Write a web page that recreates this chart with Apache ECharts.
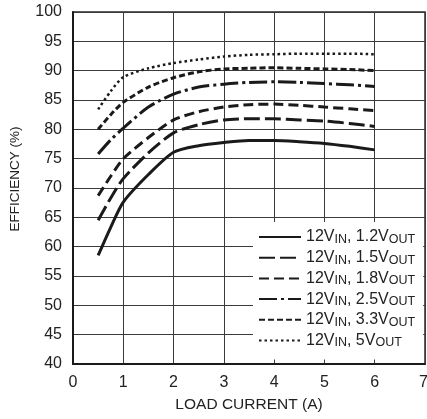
<!DOCTYPE html>
<html>
<head>
<meta charset="utf-8">
<script src="https://cdn.jsdelivr.net/npm/echarts@6/dist/echarts.min.js"></script>
<style>
html,body{margin:0;padding:0;background:#fff;}
#c{width:427px;height:419px;}
</style>
</head>
<body>
<div id="c"></div>
<script>
// Load current (A)
var currents = [0.5, 0.75, 1, 1.5, 2, 2.5, 3, 3.5, 4, 4.5, 5, 5.5, 6];
// Efficiency (%) per output voltage (12V input)
var eff1v2 = [58.5, 63.3, 67.6, 72.3, 76.1, 77.2, 77.75, 78.1, 78.1, 77.9, 77.6, 77.1, 76.5];
var eff1v5 = [64.5, 68.3, 71.6, 76.0, 79.4, 80.8, 81.6, 81.8, 81.8, 81.6, 81.4, 81.0, 80.5];
var eff1v8 = [68.7, 72.0, 75.0, 78.6, 81.6, 83.0, 83.8, 84.2, 84.3, 84.1, 83.8, 83.5, 83.2];
var eff2v5 = [75.8, 78.2, 80.2, 83.8, 86.0, 87.2, 87.7, 88.0, 88.1, 88.0, 87.8, 87.6, 87.3];
var eff3v3 = [80.0, 82.5, 84.6, 87.2, 88.8, 89.8, 90.3, 90.4, 90.5, 90.4, 90.3, 90.2, 90.0];
var eff5v0 = [83.4, 86.5, 88.9, 90.4, 91.3, 91.9, 92.4, 92.7, 92.8, 92.9, 92.9, 92.9, 92.8];
var outVolts = ['1.2', '1.5', '1.8', '2.5', '3.3', '5'];
var xTicks = [0, 1, 2, 3, 4, 5, 6, 7];
var yTicks = [40, 45, 50, 55, 60, 65, 70, 75, 80, 85, 90, 95, 100];

var effSets = [eff1v2, eff1v5, eff1v8, eff2v5, eff3v3, eff5v0];
var dashes = ['solid', [16, 5], [10, 5], [18, 4, 3, 4], [6, 3], [2.5, 3]];
var widths = [3, 3, 3, 3, 3, 2.5];
var FONT = '"Liberation Sans", Arial, sans-serif';

function pairs(arr) {
  return currents.map(function (x, i) { return [x, arr[i]]; });
}

var series = effSets.map(function (arr, i) {
  return {
    name: '12VIN, ' + outVolts[i] + 'VOUT',
    type: 'line',
    data: pairs(arr),
    smooth: 0.25,
    symbol: 'none',
    showSymbol: false,
    lineStyle: { color: '#1a1a1a', width: widths[i], type: dashes[i] },
    itemStyle: { color: '#1a1a1a' }
  };
});
var names = series.map(function (s) { return s.name; });

var chart = echarts.init(document.getElementById('c'), null, { renderer: 'canvas' });
chart.setOption({
  animation: false,
  backgroundColor: '#fff',
  textStyle: { fontFamily: FONT },
  grid: {
    left: 73, right: 2, top: 12, bottom: 55,
    outerBoundsMode: 'none', containLabel: false,
    show: true, borderColor: '#2a2a2a', borderWidth: 1.5
  },
  xAxis: {
    type: 'value', min: 0, max: 7, interval: 1,
    name: 'LOAD CURRENT (A)', nameLocation: 'middle', nameGap: 33,
    nameTextStyle: { fontSize: 15.5, color: '#222', fontFamily: FONT },
    axisLine: { show: true, lineStyle: { color: '#1a1a1a', width: 2 } },
    axisTick: { show: false },
    axisLabel: { fontSize: 16, color: '#222', margin: 11, fontFamily: FONT,
      formatter: function (v) {
        if (xTicks.indexOf(v) < 0) return '';
        return v === xTicks[xTicks.length - 1] ? '{r|' + v + '}' : String(v);
      },
      rich: { r: { fontSize: 16, color: '#222', fontFamily: FONT, padding: [0, 3, 0, 0] } } },
    splitLine: { show: true, lineStyle: { color: '#3a3a3a', width: 1 } }
  },
  yAxis: {
    type: 'value', min: 40, max: 100, interval: 5,
    name: 'EFFICIENCY (%)', nameLocation: 'middle', nameGap: 51,
    nameTextStyle: { fontSize: 13.5, color: '#222', fontFamily: FONT, padding: [0, 0, 0, 18] },
    axisLine: { show: true, lineStyle: { color: '#1a1a1a', width: 2 } },
    axisTick: { show: false },
    axisLabel: { fontSize: 16, color: '#222', margin: 11, fontFamily: FONT,
      formatter: function (v) { return yTicks.indexOf(v) >= 0 ? String(v) : ''; } },
    splitLine: { show: true, lineStyle: { color: '#3a3a3a', width: 1 } }
  },
  legend: {
    orient: 'vertical',
    left: 253, top: 222,
    backgroundColor: '#fff',
    padding: [6, 8, 10, 5],
    itemWidth: 42, itemHeight: 14, itemGap: 2.7,
    itemStyle: { color: 'rgba(0,0,0,0)', borderWidth: 0, opacity: 0 },
    data: names,
    formatter: function (name) {
      var i = names.indexOf(name);
      return '{m|12V}{s|IN}{m|, ' + outVolts[i] + 'V}{s|OUT}';
    },
    textStyle: {
      color: '#222', fontFamily: FONT,
      rich: {
        m: { fontSize: 16, lineHeight: 18, color: '#222', fontFamily: FONT },
        s: { fontSize: 12.5, lineHeight: 13, padding: [5, 0, 0, 0], color: '#222', fontFamily: FONT }
      }
    }
  },
  series: series
});
</script>
</body>
</html>
